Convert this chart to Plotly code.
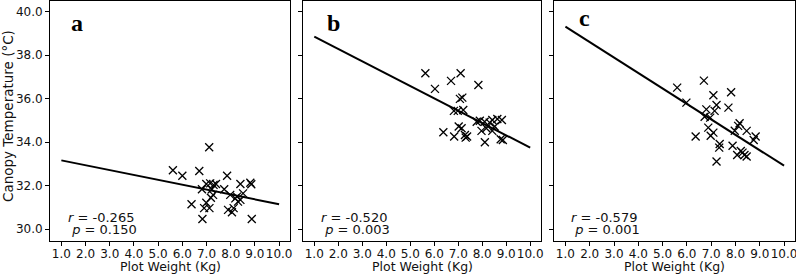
import plotly.graph_objects as go

# ---------------- data ----------------
panel_labels = ["a", "b", "c"]
r_values = ["-0.265", "-0.520", "-0.579"]
p_values = ["0.150", "0.003", "0.001"]

weight_a = [7.11, 5.61, 6.00, 6.70, 7.85, 6.81, 6.99, 7.15, 7.29, 7.39, 7.22, 7.27, 7.18, 7.73, 7.98, 8.40,
            8.81, 8.85, 8.51, 8.19, 8.30, 8.40, 6.38, 6.99, 6.90, 7.12, 7.89, 8.05, 8.12, 6.83, 8.87, 8.26]
temp_a = [33.77, 32.71, 32.46, 32.68, 32.46, 31.84, 32.08, 32.11, 32.04, 32.08, 31.84, 31.58, 31.45, 31.84, 31.58, 32.08,
          32.14, 32.07, 31.65, 31.42, 31.27, 31.35, 31.15, 31.22, 30.97, 30.97, 30.89, 30.78, 30.97, 30.47, 30.47, 31.50]

weight_b = [5.63, 7.10, 6.70, 7.84, 6.03, 7.07, 7.17, 6.82, 6.98, 7.21, 7.77, 7.90, 8.10, 8.31, 8.42, 8.63,
            8.82, 7.02, 7.14, 6.38, 6.83, 7.28, 7.31, 7.37, 7.97, 8.17, 8.42, 8.77, 8.86, 8.11, 8.52]
temp_b = [37.17, 37.17, 36.82, 36.63, 36.45, 35.99, 36.05, 35.44, 35.44, 35.48, 34.94, 34.99, 34.94, 34.90, 35.02, 35.07,
          35.02, 34.72, 34.64, 34.46, 34.26, 34.33, 34.21, 34.26, 34.52, 34.64, 34.52, 34.14, 34.10, 34.00, 34.72]

weight_c = [5.60, 6.70, 5.98, 7.82, 7.09, 7.22, 7.71, 6.80, 7.14, 6.73, 6.96, 8.17, 8.11, 6.88, 7.97, 8.46,
            7.09, 6.98, 6.36, 8.83, 8.75, 7.35, 7.33, 7.88, 8.22, 8.07, 8.37, 8.46, 7.22, 8.29]
temp_c = [36.51, 36.83, 35.82, 36.30, 36.16, 35.71, 35.59, 35.51, 35.44, 35.17, 35.13, 34.87, 34.75, 34.67, 34.53, 34.52,
          34.44, 34.30, 34.26, 34.26, 34.10, 33.92, 33.75, 33.84, 33.60, 33.41, 33.41, 33.34, 33.11, 33.52]

fit_intercept = [33.39, 39.42, 40.02]
fit_slope = [-0.224, -0.567, -0.710]
fit_x = [1.0, 10.0]

x_ticks = [1.0, 2.0, 3.0, 4.0, 5.0, 6.0, 7.0, 8.0, 9.0, 10.0]
y_ticks = [30.0, 32.0, 34.0, 36.0, 38.0, 40.0]

x_title = "Plot Weight (Kg)"
y_title = "Canopy Temperature (°C)"

# ---------------- layout constants ----------------
W, H = 796, 275
ML, MR, MT, MB = 50, 1, 1, 34
plot_w = W - ML - MR
panels_px = [(50, 290), (303, 541), (554, 795)]
domains = [[(a - ML) / plot_w, (b - ML) / plot_w] for a, b in panels_px]
x_range = [0.53, 10.45]
y_range = [29.46, 40.49]
label_pos = [(1.63, 39.48), (1.80, 39.47), (1.77, 39.70)]
stat_x = [1.18, 1.20, 1.15]

FONT = "DejaVu Sans"
weights = [weight_a, weight_b, weight_c]
temps = [temp_a, temp_b, temp_c]

fig = go.Figure()
annotations = []
for i in range(3):
    xa = "x" if i == 0 else f"x{i+1}"
    ya = "y" if i == 0 else f"y{i+1}"
    fig.add_trace(go.Scatter(
        x=weights[i], y=temps[i], mode="markers", xaxis=xa, yaxis=ya,
        marker=dict(symbol="x-thin", size=8, color="black", line=dict(width=1.3, color="black")),
        showlegend=False, hoverinfo="skip", cliponaxis=False))
    line_y = [fit_intercept[i] + fit_slope[i] * v for v in fit_x]
    fig.add_trace(go.Scatter(
        x=fit_x, y=line_y, mode="lines", xaxis=xa, yaxis=ya,
        line=dict(color="black", width=2), showlegend=False, hoverinfo="skip"))

    axis_common = dict(showline=True, mirror=True, linecolor="black", linewidth=1,
                       ticks="outside", ticklen=4, tickwidth=1, tickcolor="black",
                       showgrid=False, zeroline=False, tickangle=0,
                       ticklabeloverflow="allow",
                       tickfont=dict(family=FONT, size=12, color="#111"))
    fig.update_layout(**{
        ("xaxis" if i == 0 else f"xaxis{i+1}"): dict(
            domain=domains[i], range=x_range, anchor=ya, tickvals=x_ticks,
            tickformat=".1f", ticklabelstandoff=-2, **axis_common),
        ("yaxis" if i == 0 else f"yaxis{i+1}"): dict(
            domain=[0, 1], range=y_range, anchor=xa, tickvals=y_ticks,
            tickformat=".1f", showticklabels=(i == 0), **axis_common),
    })

    annotations.append(dict(xref=xa, yref=ya, x=label_pos[i][0], y=label_pos[i][1],
                            text=f"<b>{panel_labels[i]}</b>", showarrow=False,
                            font=dict(family="Liberation Serif", size=24, color="black"),
                            xanchor="center", yanchor="middle"))
    annotations.append(dict(xref=xa, yref="paper", x=stat_x[i], y=(241 - 217.5) / 240,
                            text=f"<i>r</i> = {r_values[i]}", showarrow=False,
                            font=dict(family=FONT, size=13, color="#111"),
                            xanchor="left", yanchor="middle"))
    annotations.append(dict(xref=xa, yref="paper", x=stat_x[i], y=(241 - 229.5) / 240,
                            text=f"\u00a0<i>p</i> = {p_values[i]}", showarrow=False,
                            font=dict(family=FONT, size=13, color="#111"),
                            xanchor="left", yanchor="middle"))
    annotations.append(dict(xref="paper", yref="paper", x=sum(domains[i]) / 2, y=(241 - 266.5) / 240,
                            text=x_title, showarrow=False,
                            font=dict(family=FONT, size=12.5, color="#111"),
                            xanchor="center", yanchor="middle"))

annotations.append(dict(xref="paper", yref="paper", x=(8 - ML) / plot_w, y=(241 - 116) / 240,
                        text=y_title, showarrow=False, textangle=-90,
                        font=dict(family=FONT, size=13.5, color="#111"),
                        xanchor="center", yanchor="middle"))

fig.update_layout(width=W, height=H, margin=dict(l=ML, r=MR, t=MT, b=MB, autoexpand=False),
                  plot_bgcolor="white", paper_bgcolor="white", annotations=annotations)

fig.write_html("out.html", config={"displayModeBar": False},
               post_script="document.body.style.margin='0';document.body.style.overflow='hidden';")
